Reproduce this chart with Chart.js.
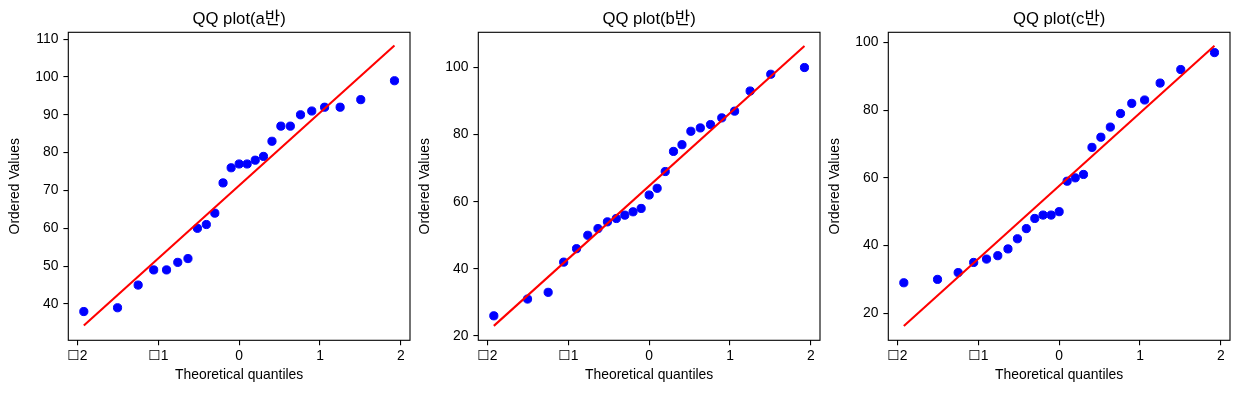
<!DOCTYPE html>
<html><head><meta charset="utf-8">
<script src="https://cdn.jsdelivr.net/npm/chart.js@4.4.1/dist/chart.umd.min.js"></script>
<style>
html,body{margin:0;padding:0;background:#fff;}
#wrap{position:relative;width:1240px;height:393px;overflow:hidden;background:#fff;}
.pane{position:absolute;top:0;width:420px;height:393px;}
canvas{display:block;}
</style></head><body>
<div id="wrap">
<div class="pane" style="left:0px"><canvas id="c0" width="420" height="393"></canvas></div>
<div class="pane" style="left:410px"><canvas id="c1" width="420" height="393"></canvas></div>
<div class="pane" style="left:820px"><canvas id="c2" width="420" height="393"></canvas></div>
</div>
<script>
// Theoretical quantiles (same for every class, n = 25)
const quantiles = [-1.921, -1.504, -1.249, -1.057, -0.898, -0.759, -0.633, -0.516, -0.406, -0.301, -0.199, -0.099, 0,
                   0.099, 0.199, 0.301, 0.406, 0.516, 0.633, 0.759, 0.898, 1.057, 1.249, 1.504, 1.921];
// Ordered values
const scoresA = [38, 39, 45, 49, 49, 51, 52, 60, 61, 64, 72, 76, 77, 77, 78, 79, 83, 87, 87, 90, 91, 92, 92, 94, 99];
const scoresB = [26, 31, 33, 42, 46, 50, 52, 54, 55, 56, 57, 58, 62, 64, 69, 75, 77, 81, 82, 83, 85, 87, 93, 98, 100];
const scoresC = [29, 30, 32, 35, 36, 37, 39, 42, 45, 48, 49, 49, 50, 59, 60, 61, 69, 72, 75, 79, 82, 83, 88, 92, 97];
// Fitted line end points
const fitX = [-1.921, 1.921];
const fitA = [34.3, 108.3];
const fitB = [23.0, 106.4];
const fitC = [16.2, 99.0];
// Titles and ticks
const titles = ['QQ plot(a반)', 'QQ plot(b반)', 'QQ plot(c반)'];
const xTicks = [-2, -1, 0, 1, 2];
const xTickLabels = ['☐2', '☐1', '0', '1', '2'];
const yTicksA = [40, 50, 60, 70, 80, 90, 100, 110];
const yTicksB = [20, 40, 60, 80, 100];
const yTicksC = [20, 40, 60, 80, 100];
const yRangeA = [30.4, 111.8];
const yRangeB = [18.7, 110.5];
const yRangeC = [12.0, 103.0];

const FONT = '"Liberation Sans", "Noto Sans CJK KR", "DejaVu Sans", sans-serif';
Chart.defaults.font.family = FONT;
Chart.defaults.font.size = 13.9;
Chart.defaults.color = '#000';

const framePlugin = {
  id: 'frameTitle',
  afterDraw(chart, args, opts) {
    const {ctx, chartArea: a} = chart;
    ctx.save();
    ctx.strokeStyle = '#000';
    ctx.lineWidth = 1.1;
    ctx.strokeRect(a.left, a.top, a.right - a.left, a.bottom - a.top);
    ctx.fillStyle = '#000';
    ctx.font = '16.7px ' + FONT;
    ctx.textAlign = 'center';
    ctx.textBaseline = 'alphabetic';
    ctx.fillText(opts.text, (a.left + a.right) / 2, a.top - 8.3);
    ctx.restore();
  }
};

function makeChart(id, title, scores, fit, yTicks, yRange) {
  const pts = quantiles.map((q, i) => ({x: q, y: scores[i]}));
  const line = fitX.map((x, i) => ({x: x, y: fit[i]}));
  new Chart(document.getElementById(id), {
    type: 'scatter',
    data: {
      datasets: [
        {data: line, showLine: true, borderColor: '#ff0000', borderWidth: 2.1, pointRadius: 0, fill: false, order: 0},
        {data: pts, backgroundColor: '#0000ff', borderColor: '#0000ff', borderWidth: 1, pointRadius: 4.1, pointHoverRadius: 4.1, order: 1}
      ]
    },
    options: {
      responsive: false,
      animation: false,
      events: [],
      layout: {padding: {left: 2.7, top: 32.3, right: 10, bottom: 5}},
      plugins: {
        legend: {display: false},
        tooltip: {enabled: false},
        frameTitle: {text: title}
      },
      scales: {
        x: {
          type: 'linear', min: -2.113, max: 2.113,
          afterBuildTicks(s) { s.ticks = xTicks.map(v => ({value: v})); },
          afterFit(s) { s.height = 47.7; },
          ticks: {autoSkip: false, maxRotation: 0, padding: 3, color: '#000',
                  callback: (v) => xTickLabels[xTicks.indexOf(v)]},
          grid: {drawOnChartArea: false, drawTicks: true, tickLength: 4.9, color: '#000', tickColor: '#000', lineWidth: 1.1},
          border: {display: false},
          title: {display: true, text: 'Theoretical quantiles', color: '#000', padding: {top: 4, bottom: 4}}
        },
        y: {
          type: 'linear', min: yRange[0], max: yRange[1],
          afterBuildTicks(s) { s.ticks = yTicks.map(v => ({value: v})); },
          afterFit(s) { s.width = 65.6; },
          ticks: {autoSkip: false, padding: 5, color: '#000'},
          grid: {drawOnChartArea: false, drawTicks: true, tickLength: 4.9, color: '#000', tickColor: '#000', lineWidth: 1.1},
          border: {display: false},
          title: {display: true, text: 'Ordered Values', color: '#000', padding: {top: 4, bottom: 4}}
        }
      }
    },
    plugins: [framePlugin]
  });
}

makeChart('c0', titles[0], scoresA, fitA, yTicksA, yRangeA);
makeChart('c1', titles[1], scoresB, fitB, yTicksB, yRangeB);
makeChart('c2', titles[2], scoresC, fitC, yTicksC, yRangeC);
</script>
</body></html>
